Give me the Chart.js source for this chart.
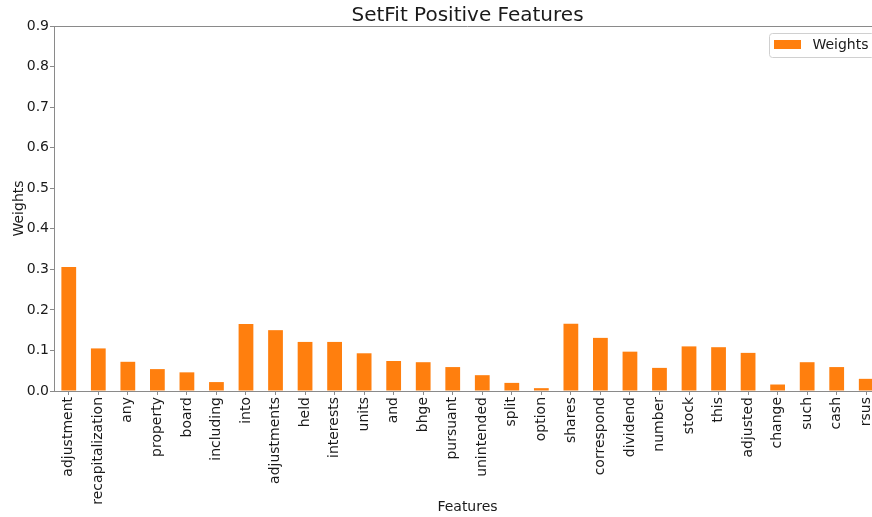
<!DOCTYPE html>
<html>
<head>
<meta charset="utf-8">
<script src="https://cdn.jsdelivr.net/npm/chart.js@4"></script>
<style>
  html, body { margin: 0; padding: 0; background: #fff; overflow: hidden; width: 872px; height: 517px; }
  #wrap { position: absolute; left: 0; top: 0; width: 890px; height: 517px; }
</style>
</head>
<body>
<div id="wrap"><canvas id="c" width="890" height="517"></canvas></div>
<script>
const categories = ["adjustment","recapitalization","any","property","board","including","into","adjustments","held","interests","units","and","bhge","pursuant","unintended","split","option","shares","correspond","dividend","number","stock","this","adjusted","change","such","cash","rsus"];
const weights = [0.306,0.105,0.072,0.054,0.046,0.022,0.165,0.150,0.121,0.121,0.093,0.074,0.071,0.059,0.039,0.020,0.007,0.166,0.131,0.097,0.057,0.110,0.108,0.094,0.016,0.071,0.059,0.030];
const yTicks = [0,0.1,0.2,0.3,0.4,0.5,0.6,0.7,0.8,0.9];
const seriesName = "Weights";
const titleText = "SetFit Positive Features";
const xTitle = "Features";
const yTitle = "Weights";

const FONT = "'DejaVu Sans', sans-serif";
const TXT = '#1a1a1a';
const SPINE = '#8a8a8a';
const BAR = '#ff7f0e';

const framePlugin = {
  id: 'frame',
  afterDraw(chart) {
    const ctx = chart.ctx, a = chart.chartArea;
    ctx.save();
    ctx.strokeStyle = SPINE;
    ctx.lineWidth = 1;
    ctx.beginPath();
    ctx.moveTo(a.left, a.top + 0.5);
    ctx.lineTo(a.right, a.top + 0.5);
    ctx.moveTo(a.right - 0.5, a.top);
    ctx.lineTo(a.right - 0.5, a.bottom);
    ctx.stroke();
    // legend
    const ds = chart.data.datasets[0];
    ctx.font = '14px ' + FONT;
    const tw = ctx.measureText(ds.label).width;
    const pad = 5.5, sw = 27, sh = 9, gap = 11, h = 24;
    const w = pad + sw + gap + tw + pad;
    const x = a.right - 7 - w, y = a.top + 6.5;
    ctx.fillStyle = 'rgba(255,255,255,0.8)';
    ctx.strokeStyle = '#d0d0d0';
    ctx.beginPath();
    ctx.roundRect(Math.round(x) + 0.5, Math.round(y) + 0.5, w, h, 3);
    ctx.fill();
    ctx.stroke();
    ctx.fillStyle = ds.backgroundColor;
    ctx.fillRect(Math.round(x + pad), Math.round(y + h / 2 - sh / 2), sw, sh);
    ctx.fillStyle = TXT;
    ctx.textBaseline = 'middle';
    ctx.textAlign = 'left';
    ctx.fillText(ds.label, x + pad + sw + gap, y + h / 2 + 0.5);
    ctx.restore();
  }
};

new Chart(document.getElementById('c'), {
  type: 'bar',
  data: {
    labels: categories,
    datasets: [{
      label: seriesName,
      data: weights,
      backgroundColor: BAR,
      borderWidth: 0,
      barPercentage: 0.5,
      categoryPercentage: 1.0
    }]
  },
  options: {
    responsive: false,
    animation: false,
    devicePixelRatio: 1,
    layout: { padding: { left: 0, right: 9, top: 0, bottom: 0 } },
    plugins: {
      legend: { display: false },
      tooltip: { enabled: false },
      title: {
        display: true,
        text: titleText,
        fullSize: false,
        color: TXT,
        font: { family: FONT, size: 20, weight: 'normal', lineHeight: 1.0 },
        padding: { top: 6, bottom: 0 }
      }
    },
    scales: {
      x: {
        offset: true,
        grid: { display: true, drawOnChartArea: false, drawTicks: true, tickLength: 4, tickColor: SPINE, offset: false },
        border: { color: SPINE, width: 1 },
        ticks: {
          autoSkip: false, maxRotation: 90, minRotation: 90,
          color: TXT, font: { family: FONT, size: 14 }, padding: 2
        },
        title: { display: true, text: xTitle, color: TXT, font: { family: FONT, size: 14 }, padding: { top: 0, bottom: 1 } },
        afterFit(s) { s.height = 126; }
      },
      y: {
        min: 0, max: 0.9,
        afterBuildTicks(s) { s.ticks = yTicks.map(v => ({ value: v })); },
        grid: { display: true, drawOnChartArea: false, drawTicks: true, tickLength: 4, tickColor: SPINE },
        border: { color: SPINE, width: 1 },
        ticks: {
          color: TXT, font: { family: FONT, size: 14 }, padding: 1,
          callback: v => v.toFixed(1)
        },
        title: { display: true, text: yTitle, color: TXT, font: { family: FONT, size: 14 }, padding: { top: 11, bottom: 0 } },
        afterFit(s) { s.width = 54; }
      }
    }
  },
  plugins: [framePlugin]
});
</script>
</body>
</html>
